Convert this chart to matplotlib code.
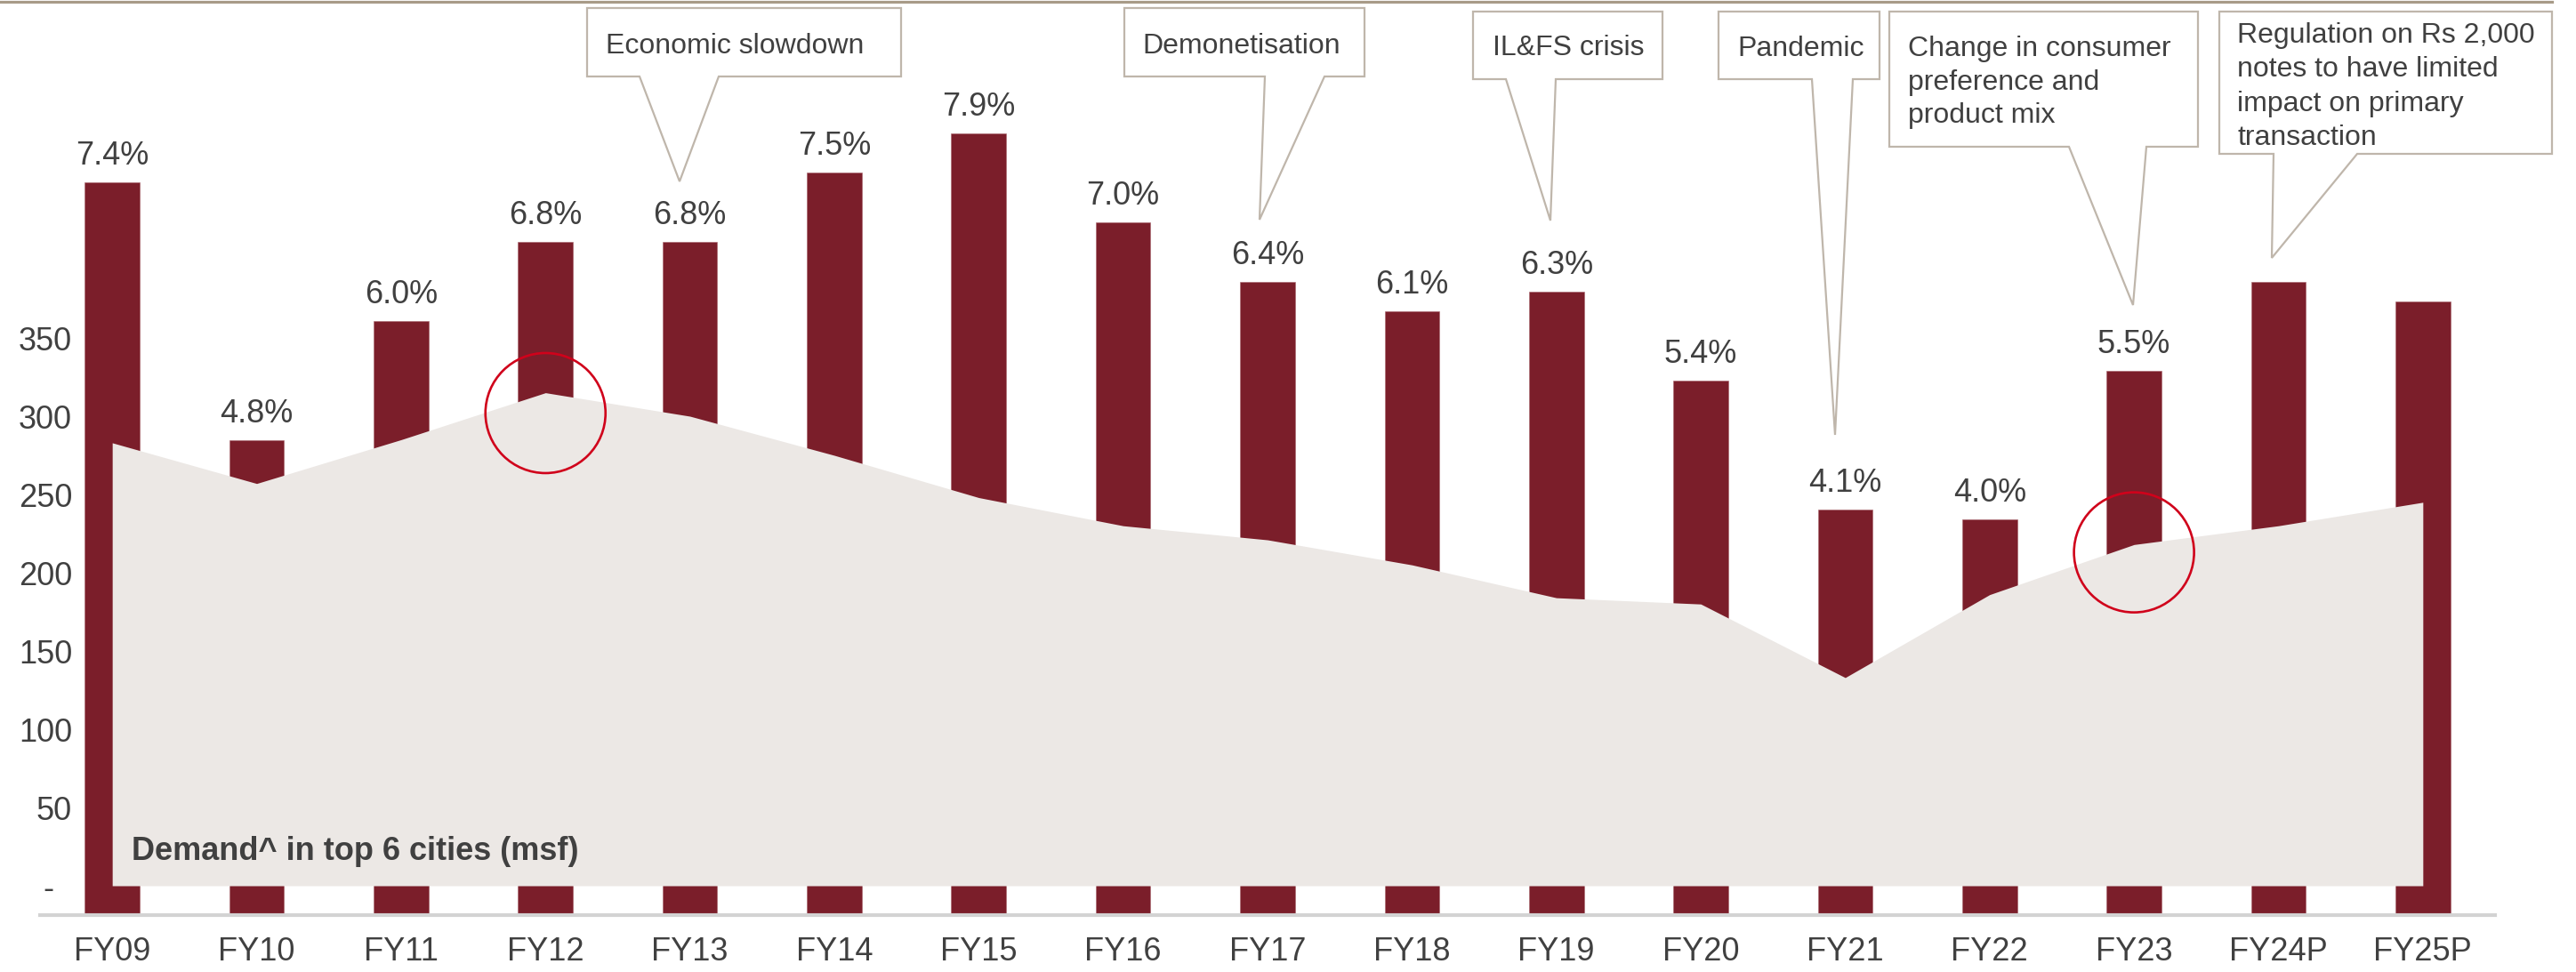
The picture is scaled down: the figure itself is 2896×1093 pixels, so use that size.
import matplotlib
matplotlib.use("Agg")
import matplotlib.pyplot as plt
from matplotlib.patches import Polygon
from matplotlib.lines import Line2D
import numpy as np

plt.rcParams['font.family'] = ['Liberation Sans', 'DejaVu Sans']

# ---------------- data ----------------
years = ["FY09", "FY10", "FY11", "FY12", "FY13", "FY14", "FY15", "FY16", "FY17",
         "FY18", "FY19", "FY20", "FY21", "FY22", "FY23", "FY24P", "FY25P"]
growth_pct = [7.4, 4.8, 6.0, 6.8, 6.8, 7.5, 7.9, 7.0, 6.4, 6.1, 6.3, 5.4, 4.1, 4.0, 5.5, 6.4, 6.2]
show_label = [True] * 15 + [False, False]
demand_msf = [283, 257, 285, 315, 300, 275, 248, 230, 221, 205, 184, 180, 133, 186, 218, 230, 245]
y_ticks = [0, 50, 100, 150, 200, 250, 300, 350]
y_tick_labels = ["-  ", "50", "100", "150", "200", "250", "300", "350"]
highlight_years = ["FY12", "FY23"]
highlight_levels = [302, 213]

callout_texts = [["Economic slowdown"], ["Demonetisation"], ["IL&FS crisis"], ["Pandemic"],
                 ["Change in consumer", "preference and", "product mix"],
                 ["Regulation on Rs 2,000", "notes to have limited", "impact on primary", "transaction"]]

# ---------------- style ----------------
W, H = 2896, 1093
BAR = "#7B1E2A"
AREA = "#ECE8E5"
TXT = "#404040"
BOX = "#BFB6AB"
RED = "#D0021B"

def fx(x):
    return x / W

def fy(y):
    return 1 - y / H

fig = plt.figure(figsize=(W / 100, H / 100), dpi=100)

ax_left, ax_right, ax_bottom, ax_top = 45, 2805, 1029, 0
ax_bar = fig.add_axes([fx(ax_left), fy(ax_bottom), (ax_right - ax_left) / W, (ax_bottom - ax_top) / H])
x = np.arange(len(years))

ax_bar.bar(x, growth_pct, width=0.38, color=BAR, edgecolor="#A8646C", linewidth=0.4, zorder=2)
ax_bar.set_xlim(-0.5, 16.5)
ax_bar.set_ylim(0, (ax_bottom - ax_top) / 111.3)
for xi, v, s in zip(x, growth_pct, show_label):
    if s:
        ax_bar.annotate(f"{v:.1f}%", (xi, v), xytext=(0, 14.4), textcoords="offset points",
                        ha="center", va="baseline", fontsize=26, color=TXT)

ax_bar.set_xticks(x)
ax_bar.set_xticklabels(years, fontsize=26, color=TXT)
ax_bar.tick_params(axis="x", length=0, pad=17)
for sp in ["top", "left", "right"]:
    ax_bar.spines[sp].set_visible(False)
ax_bar.spines["bottom"].set_color("#D3D3D3")
ax_bar.spines["bottom"].set_linewidth(3)

ax_area = ax_bar.twinx()
ax_bar.tick_params(axis="y", left=False, right=False, labelleft=False, labelright=False)
ax_bar.set_yticks([])
ax_area.fill_between(x, 0, demand_msf, color=AREA, linewidth=0, zorder=1)
px_per_unit = 1.76
zero_px = 996
ax_area.set_ylim(-(ax_bottom - zero_px) / px_per_unit, (zero_px - ax_top) / px_per_unit)
ax_area.yaxis.set_ticks_position("left")
ax_area.set_yticks(y_ticks)
ax_area.set_yticklabels(y_tick_labels, fontsize=26, color=TXT)
ax_area.tick_params(axis="y", length=0, pad=-26)
for sp in ["top", "left", "right", "bottom"]:
    ax_area.spines[sp].set_visible(False)

# highlight circles
hx = [years.index(y) for y in highlight_years]
ax_area.scatter(hx, highlight_levels, s=(135 * 0.72) ** 2, facecolors="none",
                edgecolors=RED, linewidths=1.9, zorder=5, clip_on=False)

fig.text(fx(148), fy(967), "Demand^ in top 6 cities (msf)",
         fontsize=26, fontweight="bold", color=TXT, ha="left", va="baseline")

# top rule
fig.add_artist(Line2D([0, fx(2869)], [fy(1.5), fy(1.5)], transform=fig.transFigure,
                      color="#A89B88", linewidth=2.3))

# callouts: (L, T, R, B), (base_left, base_right), (tip_x, tip_y), (text_x, first_baseline, line_step)
callout_geom = [
    ((660, 9, 1013, 86), (719, 808), (764, 204), (681, 60, 38)),
    ((1264, 9, 1534, 86), (1422, 1489), (1416, 247), (1284, 60, 38)),
    ((1656, 13, 1869, 89), (1693, 1749), (1743, 248), (1678, 62, 38)),
    ((1932, 13, 2113, 89), (2037, 2083), (2063, 489), (1953, 63, 38)),
    ((2124, 13, 2471, 165), (2326, 2413), (2398, 343), (2145, 63, 37.5)),
    ((2495, 13, 2869, 173), (2556, 2650), (2554, 290), (2515, 48, 38.3)),
]
for lines, ((L, T, R, B), (bl, br), (tx, ty), (px, py, step)) in zip(callout_texts, callout_geom):
    pts = [(L, T), (R, T), (R, B), (br, B), (tx, ty), (bl, B), (L, B)]
    poly = Polygon([(fx(a), fy(b)) for a, b in pts], closed=True, transform=fig.transFigure,
                   facecolor="white", edgecolor=BOX, linewidth=1.6, zorder=10)
    fig.add_artist(poly)
    for i, line in enumerate(lines):
        fig.text(fx(px), fy(py + i * step), line, fontsize=23, color=TXT, ha="left",
                 va="baseline", zorder=11)

fig.savefig("out.png", dpi=100, facecolor="white")
